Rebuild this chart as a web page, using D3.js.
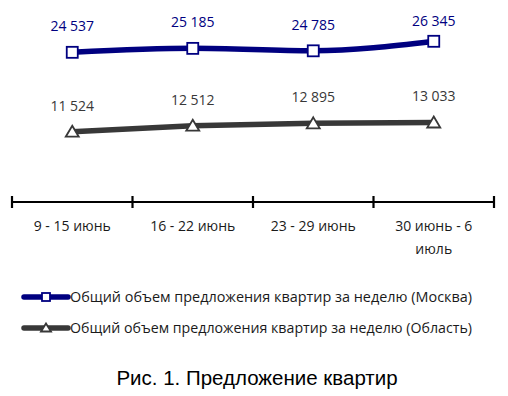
<!DOCTYPE html>
<html lang="ru">
<head>
<meta charset="UTF-8">
<title>Предложение квартир</title>
<script src="https://d3js.org/d3.v7.min.js"></script>
<style>
  body { margin: 0; background: #fff; }
  svg { display: block; font-family: "Open Sans", "Noto Sans", sans-serif; }
</style>
</head>
<body>
<div id="chart"></div>
<script>
// данные
const weeks = ["9 - 15 июнь", "16 - 22 июнь", "23 - 29 июнь", "30 июнь - 6 июль"];
const moscow = [24537, 25185, 24785, 26345];
const oblast = [11524, 12512, 12895, 13033];
const seriesNames = [
  "Общий объем предложения квартир за неделю (Москва)",
  "Общий объем предложения квартир за неделю (Область)"
];
const caption = "Рис. 1. Предложение квартир";

const width = 508, height = 396;
const svg = d3.select("#chart").append("svg")
  .attr("width", width).attr("height", height);

const x = d3.scaleBand().domain(weeks).range([12, 494]);
const y = d3.scaleLinear().domain([0, 30000]).range([202, 19]);
const cx = d => x(d) + x.bandwidth() / 2;

// ось X
const axis = svg.append("g");
axis.append("line")
  .attr("x1", 12).attr("x2", 494).attr("y1", y(0)).attr("y2", y(0))
  .attr("stroke", "#000").attr("stroke-width", 2.2);
const edges = weeks.map(w => x(w)).concat([x(weeks[weeks.length - 1]) + x.bandwidth()]);
axis.selectAll(".tick").data(edges).join("line")
  .attr("x1", d => d).attr("x2", d => d)
  .attr("y1", y(0) - 6).attr("y2", y(0) + 6)
  .attr("stroke", "#000").attr("stroke-width", 2.2);

// подписи категорий (перенос по ширине)
const catLines = {
  "9 - 15 июнь": ["9 - 15 июнь"],
  "16 - 22 июнь": ["16 - 22 июнь"],
  "23 - 29 июнь": ["23 - 29 июнь"],
  "30 июнь - 6 июль": ["30 июнь - 6", "июль"]
};
weeks.forEach(w => {
  const t = svg.append("text")
    .attr("x", cx(w)).attr("y", 231)
    .attr("text-anchor", "middle")
    .attr("font-size", 14).attr("fill", "#1a1a1a");
  catLines[w].forEach((s, i) => {
    t.append("tspan").attr("x", cx(w)).attr("dy", i ? 23 : 0).text(s);
  });
});

const series = [
  { name: seriesNames[0], values: moscow, color: "#000080", curve: d3.curveMonotoneX, marker: "square" },
  { name: seriesNames[1], values: oblast, color: "#383838", curve: d3.curveLinear, marker: "triangle" }
];

function drawMarker(g, type, color, px, py, sz) {
  const h = sz / 2;
  if (type === "square") {
    g.append("rect").attr("x", px - h).attr("y", py - h)
      .attr("width", sz).attr("height", sz)
      .attr("fill", "#fff").attr("stroke", color).attr("stroke-width", 1.8);
  } else {
    g.append("path")
      .attr("d", `M${px},${py - h - 0.5}L${px + h + 1},${py + h - 0.5}L${px - h - 1},${py + h - 0.5}Z`)
      .attr("fill", "#fff").attr("stroke", color).attr("stroke-width", 1.8);
  }
}

series.forEach(s => {
  const pts = s.values.map((v, i) => [cx(weeks[i]), y(v)]);
  const line = d3.line().curve(s.curve);
  svg.append("path").attr("d", line(pts))
    .attr("fill", "none").attr("stroke", s.color)
    .attr("stroke-width", 5.5).attr("stroke-linecap", "round");
  const g = svg.append("g");
  pts.forEach(p => drawMarker(g, s.marker, s.color, p[0], p[1], 11));
  svg.append("g").selectAll("text").data(s.values).join("text")
    .attr("x", (d, i) => cx(weeks[i]))
    .attr("y", d => Math.max(26, y(d) - 21))
    .attr("text-anchor", "middle")
    .attr("font-size", 14)
    .attr("fill", s.color)
    .text(d => d3.format(",")(d).replace(/,/g, " "));
});

// легенда
series.forEach((s, i) => {
  const ly = 297 + i * 31;
  const g = svg.append("g");
  g.append("line").attr("x1", 24).attr("x2", 68).attr("y1", ly).attr("y2", ly)
    .attr("stroke", s.color).attr("stroke-width", 5.5).attr("stroke-linecap", "round");
  drawMarker(g, s.marker, s.color, 46, ly, 8);
  g.append("text").attr("x", 70).attr("y", ly + 5)
    .attr("font-size", 14).attr("fill", "#1a1a1a")
    .attr("textLength", 402).attr("lengthAdjust", "spacingAndGlyphs")
    .text(s.name);
});

// подпись рисунка
svg.append("text").attr("x", 257).attr("y", 385)
  .attr("text-anchor", "middle")
  .attr("font-family", "'Liberation Sans', Arial, sans-serif")
  .attr("font-size", 20.5).attr("fill", "#000")
  .text(caption);
</script>
</body>
</html>
